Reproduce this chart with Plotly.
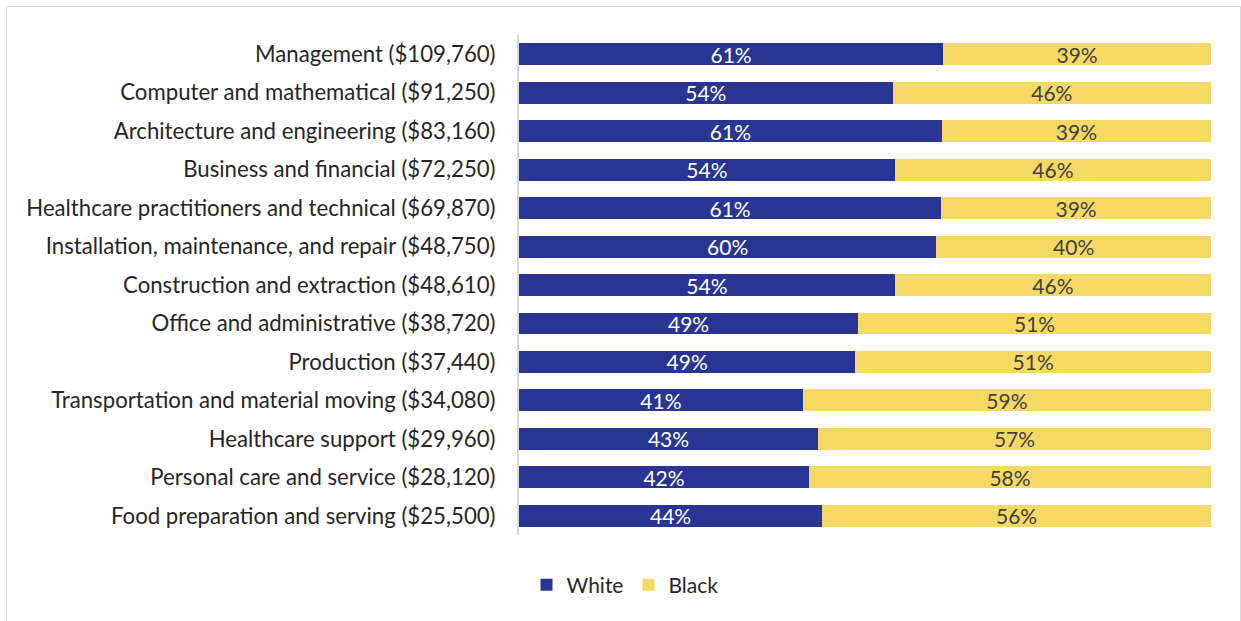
import plotly.graph_objects as go

categories = [
    "Management ($109,760)",
    "Computer and mathematical ($91,250)",
    "Architecture and engineering ($83,160)",
    "Business and financial ($72,250)",
    "Healthcare practitioners and technical ($69,870)",
    "Installation, maintenance, and repair ($48,750)",
    "Construction and extraction ($48,610)",
    "Office and administrative ($38,720)",
    "Production ($37,440)",
    "Transportation and material moving ($34,080)",
    "Healthcare support ($29,960)",
    "Personal care and service ($28,120)",
    "Food preparation and serving ($25,500)",
]
white = [61.3, 54.0, 61.1, 54.3, 61.0, 60.3, 54.3, 49.0, 48.6, 41.0, 43.2, 41.9, 43.8]
black = [38.7, 46.0, 38.9, 45.7, 39.0, 39.7, 45.7, 51.0, 51.4, 59.0, 56.8, 58.1, 56.2]

FONT = "Lato"
W, H = 1241, 621
L, R, T, B = 519, 30, 35, 86
pw, ph = W - L - R, H - T - B

fig = go.Figure()
fig.add_trace(go.Bar(
    y=categories, x=white, name="White", orientation="h",
    marker=dict(color="#283593", line=dict(width=0)),
    texttemplate="%{x:.0f}%", textposition="inside", insidetextanchor="middle",
    constraintext="none",
    textfont=dict(color="white", size=21, family=FONT),
))
fig.add_trace(go.Bar(
    y=categories, x=black, name="Black", orientation="h",
    marker=dict(color="#F6D965", line=dict(width=0)),
    texttemplate="%{x:.0f}%", textposition="inside", insidetextanchor="middle",
    constraintext="none",
    textfont=dict(color="#404040", size=21, family=FONT),
))

def px(x):
    return (x - L) / pw

def py(y):
    return (H - B - y) / ph

fig.update_layout(
    width=W, height=H,
    barmode="stack", bargap=0.43,
    margin=dict(l=L, r=R, t=T, b=B),
    plot_bgcolor="white", paper_bgcolor="white",
    font=dict(family=FONT, size=22, color="#262626"),
    uniformtext=dict(mode=False),
    xaxis=dict(range=[0, 100], visible=False, fixedrange=True),
    yaxis=dict(
        autorange="reversed", showgrid=False, zeroline=False,
        showline=True, linecolor="#D9D9D9", linewidth=2,
        ticks="", ticklabelstandoff=17,
        tickfont=dict(family=FONT, size=22.2, color="#262626"),
    ),
    legend=dict(
        orientation="h", x=px(625), xanchor="center", y=py(585), yanchor="middle",
        font=dict(family=FONT, size=21, color="#262626"),
        itemwidth=30, traceorder="normal",
    ),
    shapes=[dict(
        type="rect", xref="paper", yref="paper",
        x0=px(6.5), x1=px(1240.5), y0=py(640), y1=py(6.5),
        line=dict(color="#D9D9D9", width=1), fillcolor="rgba(0,0,0,0)", layer="below",
    )],
)

fig.write_html("out.html")
